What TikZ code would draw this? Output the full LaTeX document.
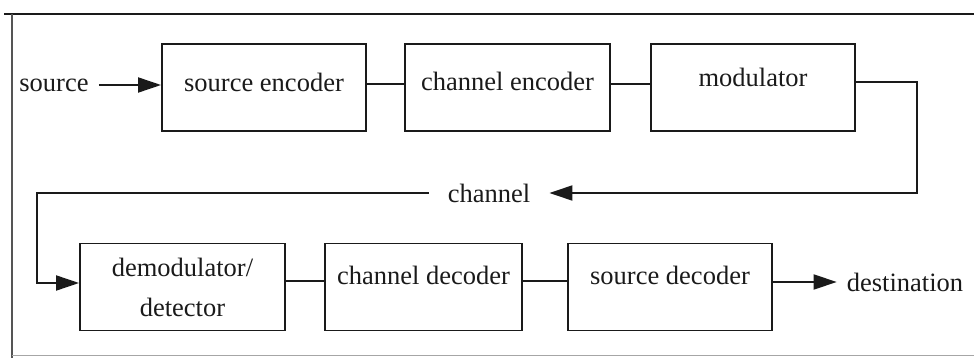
\documentclass[tikz,border=0pt]{standalone}
\usepackage{fontspec}
\setmainfont{Liberation Serif}
\usetikzlibrary{arrows.meta}
\definecolor{ink}{HTML}{1A1A1A}
\definecolor{framegray}{HTML}{555555}
\begin{document}
\begin{tikzpicture}[x=1pt,y=-1pt,
  box/.style={draw=ink, line width=1.9pt, minimum width=#1, minimum height=87pt,
    inner sep=0pt, text=ink, font=\fontsize{26.5}{40}\selectfont},
  lbl/.style={text=ink, font=\fontsize{26.5}{30}\selectfont, inner sep=0pt},
  conn/.style={draw=ink, line width=1.9pt},
  arr/.style={conn, -{Triangle[length=23pt,width=15pt]}}]
\useasboundingbox (0,0) rectangle (974,358);
% frame
\draw[ink, line width=2.2pt] (4,14) -- (974,14);
\draw[framegray, line width=1.6pt] (12,14) -- (12,358);
\draw[gray!70, line width=1pt] (12,355) -- (974,355);
% top row
\node[box=204pt, text depth=11pt] (se) at (264,87.5) {source encoder};
\node[box=205pt, text depth=13pt] (ce) at (507.5,87.5) {channel encoder};
\node[box=204pt, text depth=21pt] (mod) at (753,87.5) {modulator};
\node[lbl] (src) at (54,85) {source};
% bottom row
\node[box=205pt, align=center] (dem) at (182.5,287) {demodulator/\\detector};
\node[box=197pt, text depth=24pt] (cd) at (423.5,287) {channel decoder};
\node[box=204pt, text depth=24pt] (sd) at (670,287) {source decoder};
\node[lbl] (dst) at (905,282) {destination};
% channel label
\node[lbl, inner xsep=19pt] (ch) at (489,193) {channel};
\coordinate (r1) at (0,84);
\coordinate (m1) at (0,82);
\coordinate (r2) at (0,281);
\coordinate (c1) at (917,193);
\coordinate (c2) at (37,283);
% connectors
\draw[arr] ([xshift=10pt]src.east) -- (se.west |- src.east);
\draw[conn] (se.east |- r1) -- (ce.west |- r1);
\draw[conn] (ce.east |- r1) -- (mod.west |- r1);
\draw[arr] (mod.east |- m1) -| (c1) -- (ch.east);
\draw[arr] (ch.west) -| (c2) -- (dem.west |- c2);
\draw[conn] (dem.east |- r2) -- (cd.west |- r2);
\draw[conn] (cd.east |- r2) -- (sd.west |- r2);
\draw[arr] (sd.east |- dst) -- ([xshift=-10pt]dst.west);
\end{tikzpicture}
\end{document}
